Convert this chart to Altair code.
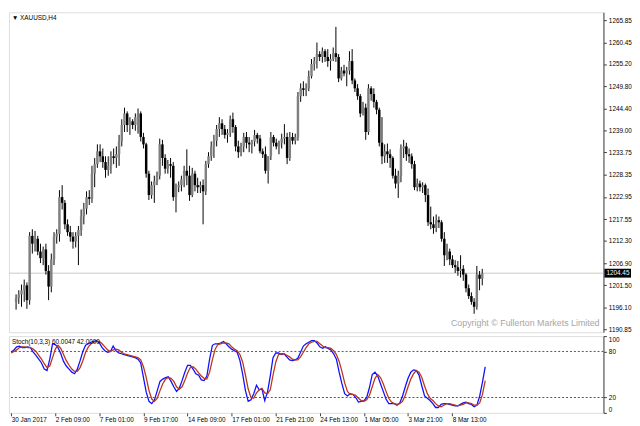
import altair as alt
import pandas as pd

# ---------------- data ----------------
opens = [1197.5, 1198.4, 1199.3, 1200.3, 1201.5, 1197.9, 1213.5, 1211.6, 1212.8, 1209.7,
         1208.1, 1210.2, 1205.0, 1201.2, 1207.8, 1213.3, 1214.0, 1222.9, 1221.5, 1216.3,
         1214.4, 1213.3, 1212.1, 1213.5, 1214.9, 1218.2, 1220.1, 1222.9, 1222.5, 1228.6,
         1230.9, 1234.0, 1232.8, 1231.4, 1229.5, 1230.5, 1232.8, 1232.4, 1233.3, 1236.4,
         1240.4, 1243.2, 1240.4, 1241.3, 1240.4, 1242.3, 1243.2, 1237.5, 1235.7, 1228.6,
         1223.4, 1225.8, 1226.7, 1228.1, 1235.7, 1232.4, 1229.8, 1230.9, 1230.5, 1222.9,
         1225.3, 1225.8, 1227.2, 1229.3, 1228.1, 1223.4, 1228.6, 1225.8, 1225.3, 1225.8,
         1224.3, 1230.9, 1232.8, 1235.2, 1236.6, 1239.4, 1240.8, 1239.4, 1238.0, 1238.5,
         1241.8, 1239.9, 1235.2, 1233.8, 1235.2, 1237.5, 1236.1, 1235.7, 1236.4, 1238.0,
         1237.1, 1234.0, 1233.3, 1229.3, 1232.8, 1237.5, 1236.1, 1235.2, 1236.1, 1237.1,
         1237.5, 1232.4, 1237.5, 1236.6, 1237.5, 1247.4, 1249.3, 1248.9, 1249.3, 1252.2,
         1255.2, 1255.9, 1257.6, 1256.9, 1258.3, 1256.9, 1255.9, 1256.4, 1257.8, 1256.9,
         1251.7, 1253.6, 1252.9, 1253.6, 1255.9, 1251.2, 1249.3, 1247.4, 1243.2, 1244.6,
         1238.7, 1249.3, 1247.9, 1246.0, 1244.1, 1236.1, 1232.8, 1234.0, 1233.3, 1232.4,
         1228.1, 1226.2, 1228.1, 1234.7, 1235.2, 1233.3, 1232.8, 1230.9, 1225.3, 1226.2,
         1225.3, 1225.8, 1223.4, 1216.8, 1216.3, 1215.4, 1217.3, 1216.8, 1212.8, 1208.8,
         1209.7, 1207.8, 1206.4, 1205.9, 1205.0, 1205.5, 1204.1, 1200.8, 1198.9, 1197.5,
         1196.3, 1204.1, 1203.1]

highs = [1199.3, 1200.3, 1201.7, 1202.9, 1202.2, 1214.4, 1215.1, 1214.7, 1213.5, 1211.6,
         1210.9, 1211.6, 1206.4, 1209.2, 1214.4, 1215.1, 1224.6, 1225.8, 1222.2, 1217.5,
         1215.9, 1214.4, 1214.4, 1215.9, 1219.9, 1221.5, 1224.3, 1224.6, 1230.5, 1232.4,
         1235.7, 1235.7, 1234.7, 1232.8, 1232.8, 1234.0, 1234.7, 1235.2, 1238.0, 1241.8,
         1244.6, 1243.7, 1242.3, 1241.8, 1243.2, 1244.4, 1243.7, 1238.5, 1236.1, 1229.3,
         1226.7, 1228.1, 1229.1, 1237.1, 1236.8, 1233.3, 1231.9, 1232.4, 1231.4, 1226.2,
         1226.7, 1228.1, 1230.5, 1234.5, 1230.5, 1230.0, 1229.3, 1227.6, 1226.7, 1227.2,
         1231.7, 1233.8, 1236.4, 1238.0, 1240.4, 1242.3, 1241.8, 1240.4, 1239.4, 1242.7,
         1243.4, 1240.4, 1236.6, 1236.1, 1238.5, 1238.7, 1237.5, 1236.8, 1239.2, 1238.5,
         1238.0, 1234.7, 1235.2, 1232.8, 1238.7, 1238.0, 1237.1, 1236.6, 1238.3, 1240.6,
         1238.5, 1238.7, 1238.5, 1238.3, 1248.4, 1250.5, 1251.0, 1250.5, 1253.6, 1256.4,
         1256.9, 1260.4, 1258.3, 1259.2, 1258.8, 1258.8, 1257.6, 1259.2, 1264.2, 1257.6,
         1254.5, 1255.0, 1254.5, 1258.3, 1258.8, 1251.7, 1250.3, 1247.9, 1246.0, 1245.6,
         1250.3, 1249.8, 1249.3, 1246.5, 1244.6, 1242.3, 1235.7, 1235.9, 1234.5, 1232.8,
         1229.8, 1229.3, 1235.7, 1236.8, 1236.1, 1234.7, 1233.5, 1231.7, 1227.4, 1226.9,
         1226.5, 1226.2, 1225.0, 1220.6, 1218.2, 1218.7, 1218.2, 1217.3, 1214.4, 1211.6,
         1210.4, 1208.8, 1207.6, 1207.4, 1208.8, 1206.4, 1204.5, 1201.7, 1199.8, 1198.4,
         1206.2, 1205.0, 1205.5]

lows = [1195.6, 1197.0, 1196.3, 1197.5, 1195.8, 1196.8, 1209.2, 1209.7, 1208.8, 1206.9,
        1206.4, 1204.1, 1197.9, 1199.8, 1206.4, 1211.6, 1212.1, 1219.9, 1215.1, 1213.5,
        1212.1, 1210.4, 1210.7, 1206.4, 1213.5, 1216.3, 1218.7, 1221.0, 1221.5, 1225.3,
        1230.0, 1231.4, 1230.0, 1227.6, 1228.1, 1228.6, 1230.9, 1230.0, 1230.5, 1235.2,
        1238.7, 1238.7, 1238.0, 1239.4, 1239.0, 1238.3, 1236.4, 1234.7, 1227.6, 1222.2,
        1222.5, 1221.5, 1225.8, 1227.2, 1230.5, 1228.6, 1228.6, 1227.6, 1222.0, 1219.2,
        1224.1, 1224.3, 1225.3, 1225.8, 1222.0, 1222.9, 1224.3, 1223.9, 1223.9, 1216.3,
        1223.4, 1230.0, 1231.7, 1232.4, 1235.2, 1237.5, 1238.0, 1237.1, 1236.1, 1237.5,
        1238.5, 1234.0, 1232.4, 1232.8, 1233.8, 1234.7, 1233.8, 1233.5, 1235.2, 1235.9,
        1233.5, 1232.4, 1228.6, 1226.2, 1231.9, 1235.2, 1234.5, 1233.3, 1234.7, 1235.7,
        1230.9, 1231.7, 1235.7, 1235.7, 1236.6, 1246.0, 1247.4, 1247.4, 1248.6, 1251.7,
        1253.6, 1254.1, 1255.9, 1255.5, 1255.7, 1254.5, 1253.6, 1255.9, 1255.7, 1250.8,
        1251.2, 1252.2, 1249.8, 1252.6, 1250.3, 1248.4, 1246.5, 1242.3, 1242.7, 1236.8,
        1238.0, 1246.3, 1244.6, 1243.0, 1235.2, 1230.9, 1231.2, 1231.2, 1230.0, 1227.4,
        1225.0, 1222.7, 1226.5, 1232.4, 1231.7, 1231.2, 1229.8, 1224.6, 1224.3, 1224.3,
        1223.9, 1221.7, 1215.9, 1215.1, 1214.0, 1214.4, 1215.4, 1212.1, 1206.2, 1207.6,
        1206.4, 1205.7, 1204.5, 1203.8, 1203.4, 1202.6, 1199.8, 1198.2, 1196.8, 1194.6,
        1195.6, 1200.3, 1201.5]

closes = [1198.4, 1199.3, 1200.3, 1201.5, 1197.9, 1213.5, 1211.6, 1212.8, 1209.7, 1208.1,
          1210.2, 1205.0, 1201.2, 1207.8, 1213.3, 1214.0, 1222.9, 1221.5, 1216.3, 1214.4,
          1213.3, 1212.1, 1213.5, 1214.9, 1218.2, 1220.1, 1222.9, 1222.5, 1228.6, 1230.9,
          1234.0, 1232.8, 1231.4, 1229.5, 1230.5, 1232.8, 1232.4, 1233.3, 1236.4, 1240.4,
          1243.2, 1240.4, 1241.3, 1240.4, 1242.3, 1243.2, 1237.5, 1235.7, 1228.6, 1223.4,
          1225.8, 1226.7, 1228.1, 1235.7, 1232.4, 1229.8, 1230.9, 1230.5, 1222.9, 1225.3,
          1225.8, 1227.2, 1229.3, 1228.1, 1223.4, 1228.6, 1225.8, 1225.3, 1225.8, 1224.3,
          1230.9, 1232.8, 1235.2, 1236.6, 1239.4, 1240.8, 1239.4, 1238.0, 1238.5, 1241.8,
          1239.9, 1235.2, 1233.8, 1235.2, 1237.5, 1236.1, 1235.7, 1236.4, 1238.0, 1237.1,
          1234.0, 1233.3, 1229.3, 1232.8, 1237.5, 1236.1, 1235.2, 1236.1, 1237.1, 1237.5,
          1232.4, 1237.5, 1236.6, 1237.5, 1247.4, 1249.3, 1248.9, 1249.3, 1252.2, 1255.2,
          1255.9, 1257.6, 1256.9, 1258.3, 1256.9, 1255.9, 1256.4, 1257.8, 1256.9, 1251.7,
          1253.6, 1252.9, 1253.6, 1255.9, 1251.2, 1249.3, 1247.4, 1243.2, 1244.6, 1238.7,
          1249.3, 1247.9, 1246.0, 1244.1, 1236.1, 1232.8, 1234.0, 1233.3, 1232.4, 1228.1,
          1226.2, 1228.1, 1234.7, 1235.2, 1233.3, 1232.8, 1230.9, 1225.3, 1226.2, 1225.3,
          1225.8, 1223.4, 1216.8, 1216.3, 1215.4, 1217.3, 1216.8, 1212.8, 1208.8, 1209.7,
          1207.8, 1206.4, 1205.9, 1205.0, 1205.5, 1204.1, 1200.8, 1198.9, 1197.5, 1196.3,
          1204.1, 1203.1, 1204.45]

stoch_main = [79, 82, 86, 87, 85, 85, 86, 85, 79, 75,
              70, 65, 57, 55, 70, 90, 89, 85, 77, 67,
              61, 57, 53, 51, 57, 68, 80, 88, 90, 92,
              93, 94, 91, 85, 81, 79, 80, 87, 81, 78,
              77, 76, 75, 74, 73, 72, 70, 65, 46, 27,
              15, 12, 17, 29, 41, 44, 46, 47, 41, 34,
              28, 32, 42, 53, 62, 62, 57, 51, 49, 43,
              42, 48, 70, 88, 90, 90, 91, 93, 90, 86,
              83, 81, 79, 68, 50, 29, 15, 17, 25, 36,
              30, 31, 16, 27, 48, 72, 78, 78, 76, 77,
              73, 69, 68, 69, 71, 79, 87, 90, 92, 94,
              94, 91, 86, 84, 86, 84, 82, 77, 70, 53,
              38, 25, 22, 25, 24, 20, 14, 15, 16, 20,
              33, 50, 53, 48, 38, 28, 18, 12, 12, 12,
              10, 13, 22, 34, 45, 53, 56, 55, 49, 35,
              22, 19, 16, 12, 7, 7, 11, 12, 12, 11,
              10, 9, 9, 11, 13, 14, 12, 11, 8, 10,
              22, 40, 60.0047]

stoch_signal = [78, 80, 82, 85, 86, 86, 85, 85, 83, 80,
                75, 70, 64, 59, 61, 72, 83, 88, 84, 76,
                68, 62, 57, 54, 54, 59, 68, 79, 86, 90,
                92, 93, 93, 90, 86, 82, 80, 82, 83, 82,
                79, 77, 76, 75, 74, 73, 72, 69, 60, 46,
                29, 18, 15, 19, 29, 38, 44, 46, 45, 41,
                34, 31, 34, 42, 52, 59, 60, 57, 52, 48,
                45, 44, 53, 69, 83, 89, 90, 91, 91, 90,
                86, 83, 81, 76, 66, 49, 31, 20, 19, 26,
                30, 32, 26, 25, 30, 49, 66, 76, 77, 77,
                75, 73, 70, 69, 69, 73, 79, 85, 90, 92,
                93, 93, 90, 87, 85, 85, 84, 81, 76, 67,
                54, 39, 28, 24, 24, 23, 19, 16, 15, 17,
                23, 34, 45, 50, 46, 38, 28, 19, 14, 12,
                11, 12, 15, 23, 34, 44, 51, 55, 53, 46,
                35, 25, 19, 16, 12, 9, 8, 10, 12, 12,
                11, 10, 9, 10, 11, 13, 13, 12, 10, 10,
                13, 24, 42.0]

price_ticks = [1265.85, 1260.45, 1255.20, 1249.80, 1244.40, 1239.00, 1233.75, 1228.35,
               1222.95, 1217.55, 1212.30, 1206.90, 1201.50, 1196.10, 1190.85]
stoch_ticks = [100, 80, 20, 0]
stoch_levels = [80, 20]
date_tick_idx = [0, 16, 32, 48, 64, 80, 96, 112, 128, 144, 160]
date_tick_labels = ["30 Jan 2017", "2 Feb 09:00", "7 Feb 01:00", "9 Feb 17:00", "14 Feb 09:00",
                    "17 Feb 01:00", "21 Feb 21:00", "24 Feb 13:00", "1 Mar 05:00", "3 Mar 21:00",
                    "8 Mar 13:00"]
last_price = 1204.45
symbol_title = "\u25BC XAUUSD,H4"
stoch_title = "Stoch(10,3,3) 60.0047 42.0000"
copyright_text = "Copyright \u00A9 Fullerton Markets Limited"

# ---------------- build ----------------
n = len(closes)
df = pd.DataFrame({"i": list(range(n)), "open": opens, "high": highs, "low": lows,
                   "close": closes, "k": stoch_main, "d": stoch_signal})

W = 604
H_MAIN = 325
H_STOCH = 78
FONT = "Liberation Sans"
FS = 6.5

xscale = alt.Scale(domain=[-0.8, 214.9], nice=False, zero=False)
yscale = alt.Scale(domain=[1190.14, 1267.74], nice=False, zero=False)

base = alt.Chart(df)

price_axis = alt.Axis(orient="right", values=price_ticks, format=".2f", title=None,
                      labelFontSize=FS, tickSize=3, grid=False, domainColor="#404040",
                      tickColor="#404040", labelColor="black", labelPadding=2,
                      labelOverlap=False, labelFont=FONT)

lp = pd.DataFrame({"p": [last_price], "t": [f"{last_price:.2f}"]})
price_line = alt.Chart(lp).mark_rule(color="#c8c8c8", strokeWidth=1).encode(
    y=alt.Y("p:Q", scale=yscale, axis=price_axis))

wicks = base.mark_rule(color="black", strokeWidth=1).encode(
    x=alt.X("i:Q", scale=xscale, axis=None),
    y=alt.Y("low:Q", scale=yscale, axis=price_axis),
    y2="high:Q")

bodies = base.mark_bar(size=2.5).encode(
    x=alt.X("i:Q", scale=xscale, axis=None),
    y=alt.Y("open:Q", scale=yscale, axis=price_axis),
    y2="close:Q",
    color=alt.condition(alt.datum.close >= alt.datum.open, alt.value("#808080"), alt.value("black")))

title_txt = alt.Chart(pd.DataFrame({"t": [symbol_title]})).mark_text(
    align="left", baseline="middle", fontSize=FS, font=FONT, color="black").encode(
    x=alt.value(3), y=alt.value(6), text="t:N")

copy_txt = alt.Chart(pd.DataFrame({"t": [copyright_text]})).mark_text(
    align="right", baseline="middle", fontSize=9, font=FONT, color="#a6a6a6").encode(
    x=alt.value(W - 4), y=alt.value(H_MAIN - 9), text="t:N")

price_box = alt.Chart(lp).mark_rect(color="black", yOffset=-4.5, y2Offset=4.5).encode(
    y=alt.Y("p:Q", scale=yscale, axis=price_axis), y2="p:Q",
    x=alt.value(W + 1), x2=alt.value(W + 28))
price_box_txt = alt.Chart(lp).mark_text(
    align="left", baseline="middle", fontSize=FS, font=FONT, color="white").encode(
    y=alt.Y("p:Q", scale=yscale, axis=price_axis), x=alt.value(W + 3), text="t:N")

main = alt.layer(price_line, wicks, bodies, title_txt, copy_txt, price_box, price_box_txt).properties(
    width=W, height=H_MAIN)

# stochastic panel
sscale = alt.Scale(domain=[0, 100], nice=False, zero=False)
label_map = "{" + ",".join(f"'{i}':'{l}'" for i, l in zip(date_tick_idx, date_tick_labels)) + "}"
date_axis = alt.Axis(values=date_tick_idx, labelExpr=f"{label_map}[datum.value]", labelAlign="left",
                     labelPadding=1, tickSize=3, domain=False, grid=False, labelFontSize=FS,
                     labelFont=FONT, title=None, labelOverlap=False, tickColor="#404040",
                     labelColor="black")
stoch_axis = alt.Axis(orient="right", values=stoch_ticks, title=None, labelFontSize=FS, tickSize=3,
                      grid=False, domainColor="#404040", tickColor="#404040", labelColor="black",
                      labelPadding=2, labelFlush=True, labelOverlap=False, labelFont=FONT)

levels = alt.Chart(pd.DataFrame({"level": stoch_levels})).mark_rule(
    color="#555555", strokeDash=[2, 2], strokeWidth=1).encode(
    y=alt.Y("level:Q", scale=sscale, axis=stoch_axis))

k_line = base.mark_line(color="#1010ff", strokeWidth=1.3).encode(
    x=alt.X("i:Q", scale=xscale, axis=date_axis),
    y=alt.Y("k:Q", scale=sscale, axis=stoch_axis))
d_line = base.mark_line(color="#b8381c", strokeWidth=1.3).encode(
    x=alt.X("i:Q", scale=xscale, axis=date_axis),
    y=alt.Y("d:Q", scale=sscale, axis=stoch_axis))

stoch_txt = alt.Chart(pd.DataFrame({"t": [stoch_title]})).mark_text(
    align="left", baseline="middle", fontSize=FS, font=FONT, color="black").encode(
    x=alt.value(3), y=alt.value(6), text="t:N")

stoch = alt.layer(levels, k_line, d_line, stoch_txt).properties(width=W, height=H_STOCH)

chart = alt.vconcat(main, stoch, spacing=1).properties(
    padding={"left": 0, "top": 0, "right": 0, "bottom": 0},
    background="white"
).configure_view(stroke="#6e6e6e", strokeWidth=1).configure_axis(
    labelOverlap=False
).configure(font=FONT)

chart.save("out.html", embed_options={"renderer": "svg", "actions": False})
